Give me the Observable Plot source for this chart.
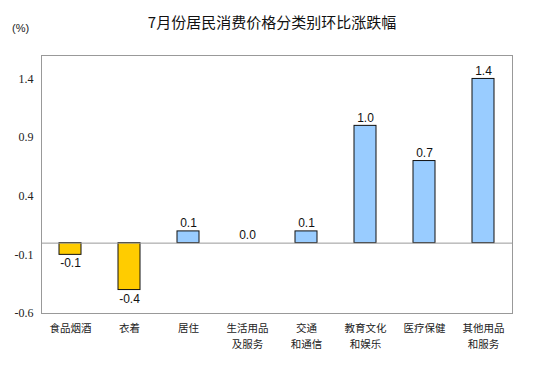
<!DOCTYPE html>
<html><head><meta charset="utf-8">
<script src="https://cdn.jsdelivr.net/npm/d3@7"></script>
<script src="https://cdn.jsdelivr.net/npm/@observablehq/plot@0.6"></script>
<style>
body{margin:0;background:#fff;width:544px;height:378px;overflow:hidden;font-family:"Noto Sans CJK SC",sans-serif;}
#head{position:relative;height:40px;}
#title{position:absolute;left:0;width:544px;top:11px;text-align:center;font-size:15px;color:#111;}
#unit{position:absolute;left:12px;top:22px;font-size:11px;font-family:"Liberation Sans",sans-serif;color:#222;}
</style></head>
<body>
<div id="head"><div id="title">7月份居民消费价格分类别环比涨跌幅</div><div id="unit">(%)</div></div>
<div id="chart"></div>
<script>
const categories = ["食品烟酒","衣着","居住","生活用品\n及服务","交通\n和通信","教育文化\n和娱乐","医疗保健","其他用品\n和服务"];
const values = [-0.1,-0.4,0.1,0.0,0.1,1.0,0.7,1.4];
const yTicks = [-0.6,-0.1,0.4,0.9,1.4];
const data = categories.map((c,i)=>({c, v: values[i]}));
const line = (s, k) => (s.split("\n")[k] || "");
const chart = Plot.plot({
  width: 544, height: 338,
  marginTop: 15, marginBottom: 65, marginLeft: 41, marginRight: 32,
  x: {domain: categories, paddingInner: 0.63, paddingOuter: 0.3, label: null},
  y: {domain: [-0.6, 1.6], label: null},
  marks: [
    Plot.frame({stroke: "#999"}),
    Plot.axisY({ticks: yTicks, tickFormat: d => d.toFixed(1), tickSize: 0, tickPadding: 8, fontSize: 12, fontFamily: "Liberation Serif", fill: "#222"}),
    Plot.axisX({tickSize: 0, tickPadding: 11, tickFormat: d => line(d, 0), fontSize: 10.5, fontFamily: "Noto Sans CJK SC", fill: "#222"}),
    Plot.axisX({tickSize: 0, tickPadding: 27, tickFormat: d => line(d, 1), fontSize: 10.5, fontFamily: "Noto Sans CJK SC", fill: "#222"}),
    Plot.barY(data, {x: "c", y: "v", fill: d => d.v < 0 ? "#FFCC00" : "#99CCFF", stroke: "#111", strokeWidth: 1}),
    Plot.ruleY([0], {stroke: "#999"}),
    Plot.text(data, {x: "c", y: "v", text: d => d.v.toFixed(1), lineAnchor: "bottom", fontSize: 12, fontFamily: "Liberation Sans", fill: "#111",
      filter: d => d.v >= 0, dy: -4}),
    Plot.text(data, {x: "c", y: "v", text: d => d.v.toFixed(1), lineAnchor: "top", fontSize: 12, fontFamily: "Liberation Sans", fill: "#111",
      filter: d => d.v < 0, dy: 4})
  ]
});
document.getElementById("chart").appendChild(chart);
</script>
</body></html>
